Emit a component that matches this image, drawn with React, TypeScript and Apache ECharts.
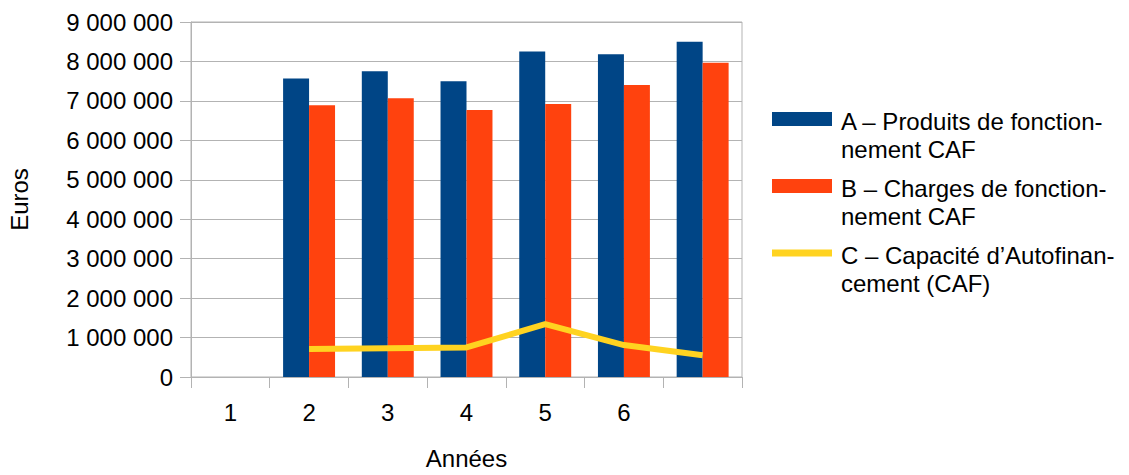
import React, { useEffect, useRef } from "react";
import * as echarts from "echarts";

const categories = ["1", "2", "3", "4", "5", "6", ""];
const produits = [null, 7570000, 7750000, 7500000, 8250000, 8180000, 8500000];
const charges = [null, 6890000, 7070000, 6770000, 6920000, 7400000, 7970000];
const caf = [null, 710000, 730000, 750000, 1340000, 810000, 550000];
const seriesNames = [
  "A – Produits de fonction-\nnement CAF",
  "B – Charges de fonction-\nnement CAF",
  "C – Capacité d’Autofinan-\ncement (CAF)",
];

const FONT = "Liberation Sans";
const FS = 24;

export default function App() {
  const ref = useRef<HTMLDivElement>(null);
  useEffect(() => {
    const chart = echarts.init(ref.current!, null, { renderer: "svg" });
    chart.setOption({
      animation: false,
      textStyle: { fontFamily: FONT, color: "#000" },
      grid: {
        left: 191,
        right: 387,
        top: 22,
        bottom: 95,
        show: true,
        borderColor: "#b3b3b3",
        borderWidth: 1,
      },
      legend: {
        orient: "vertical",
        left: 767,
        top: 103,
        itemWidth: 60,
        itemHeight: 55,
        itemGap: 12,
        itemStyle: { borderWidth: 0 },
        textStyle: { fontFamily: FONT, fontSize: FS, color: "#000", lineHeight: 27.5, padding: [0, 0, 0, 4] },
        data: [
          { name: seriesNames[0], icon: "path://M0,0L60,0M0,4H60V18H0ZM0,55L60,55" },
          { name: seriesNames[1], icon: "path://M0,0L60,0M0,4H60V18H0ZM0,55L60,55" },
          { name: seriesNames[2], icon: "path://M0,0L60,0M0,7.5H60V14.5H0ZM0,55L60,55" },
        ],
      },
      xAxis: {
        type: "category",
        data: categories,
        name: "Années",
        nameLocation: "middle",
        nameGap: 69,
        nameTextStyle: { fontFamily: FONT, fontSize: FS, color: "#000" },
        axisLine: { show: true, lineStyle: { color: "#b3b3b3" } },
        axisTick: { show: true, length: 11, alignWithLabel: false, lineStyle: { color: "#b3b3b3" } },
        axisLabel: { fontFamily: FONT, fontSize: FS, color: "#000", margin: 23 },
        splitLine: { show: false },
      },
      yAxis: {
        type: "value",
        min: 0,
        max: 9000000,
        interval: 1000000,
        name: "Euros",
        nameLocation: "middle",
        nameGap: 160,
        nameRotate: 90,
        nameTextStyle: { fontFamily: FONT, fontSize: FS, color: "#000" },
        axisLine: { show: true, lineStyle: { color: "#b3b3b3" } },
        axisTick: { show: true, length: 11, lineStyle: { color: "#b3b3b3" } },
        axisLabel: {
          fontFamily: FONT,
          fontSize: FS,
          color: "#000",
          margin: 18,
          formatter: (v: number) => String(v).replace(/\B(?=(\d{3})+(?!\d))/g, " "),
        },
        splitLine: { show: true, lineStyle: { color: "#b3b3b3" } },
      },
      series: [
        {
          name: seriesNames[0],
          type: "bar",
          data: produits,
          barGap: "0%",
          barCategoryGap: "34%",
          itemStyle: { color: "#004586" },
        },
        {
          name: seriesNames[1],
          type: "bar",
          data: charges,
          itemStyle: { color: "#ff420e" },
        },
        {
          name: seriesNames[2],
          type: "line",
          data: caf,
          showSymbol: false,
          symbol: "none",
          itemStyle: { color: "#ffd320", borderWidth: 0 },
          lineStyle: { color: "#ffd320", width: 6 },
        },
      ],
    });
    return () => chart.dispose();
  }, []);
  return <div ref={ref} style={{ width: 1129, height: 475, margin: -8 }} />;
}
